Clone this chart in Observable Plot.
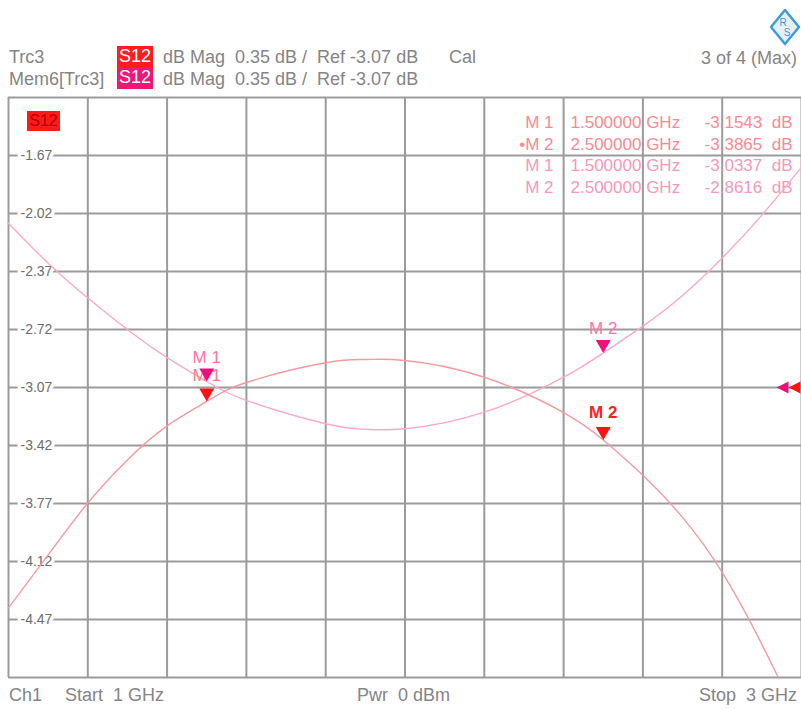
<!DOCTYPE html>
<html><head><meta charset="utf-8">
<script src="https://cdn.jsdelivr.net/npm/d3@7"></script>
<script src="https://cdn.jsdelivr.net/npm/@observablehq/plot@0.6"></script>
<style>
body{margin:0;background:#fff;font-family:"Liberation Sans",Arial,sans-serif;}
#wrap{position:relative;width:801px;height:710px;overflow:hidden;background:#fff;}
.t{position:absolute;white-space:pre;color:#858585;font-size:18px;line-height:20px;}
.badge{position:absolute;color:#fff;font-size:18px;line-height:21px;text-align:center;}
#chart{position:absolute;left:0;top:92px;}
</style></head><body>
<div id="wrap">
  <svg style="position:absolute;left:769px;top:8px" width="32" height="38" viewBox="0 0 32 38">
    <polygon points="16,2 30,19 16,36 2,19" fill="#e4f1fb" stroke="#3d9cdc" stroke-width="2.5" stroke-linejoin="round"/>
    <text x="14" y="18" font-size="10" fill="#3d9cdc" text-anchor="middle" font-family="Liberation Sans">R</text>
    <text x="18" y="28" font-size="10" fill="#3d9cdc" text-anchor="middle" font-family="Liberation Sans">S</text>
  </svg>
  <div class="t" style="left:9px;top:47px">Trc3</div>
  <div class="badge" style="left:117px;top:46px;width:36px;height:21px;background:#ff1e1e">S12</div>
  <div class="t" style="left:163px;top:47px">dB Mag  0.35 dB /  Ref -3.07 dB</div>
  <div class="t" style="left:449px;top:47px">Cal</div>
  <div class="t" style="right:4px;top:48px">3 of 4 (Max)</div>
  <div class="t" style="left:9px;top:69px">Mem6[Trc3]</div>
  <div class="badge" style="left:117px;top:67px;width:36px;height:22px;background:#ee1676">S12</div>
  <div class="t" style="left:163px;top:69px">dB Mag  0.35 dB /  Ref -3.07 dB</div>
  <div id="chart"></div>
  <div class="badge" style="left:27px;top:111px;width:33px;height:20px;line-height:20px;font-size:16px;background:#ff1a1a;color:#b00000">S12</div>
  <div class="t" style="left:9px;top:685px">Ch1</div>
  <div class="t" style="left:65px;top:685px">Start  1 GHz</div>
  <div class="t" style="left:357px;top:685px">Pwr  0 dBm</div>
  <div class="t" style="right:4px;top:685px">Stop  3 GHz</div>
</div>
<script>
// ---- data ----
const trcFreq = [1.0, 1.1, 1.2, 1.3, 1.4, 1.5, 1.6, 1.8, 1.9, 2.0, 2.2, 2.4, 2.5, 2.6, 2.7, 2.8, 2.9, 3.0];
const trcVal  = [-4.40, -4.08, -3.767, -3.507, -3.302, -3.1543, -3.04, -2.921, -2.901, -2.907, -3.008, -3.221, -3.3865, -3.600, -3.854, -4.186, -4.62, -5.11];
const memFreq = [1.0, 1.1, 1.2, 1.3, 1.4, 1.5, 1.6, 1.8, 1.9, 2.0, 2.2, 2.4, 2.5, 2.6, 2.7, 2.8, 2.9, 3.0];
const memVal  = [-2.078, -2.32, -2.53, -2.72, -2.89, -3.0337, -3.148, -3.289, -3.322, -3.319, -3.219, -3.008, -2.8616, -2.70, -2.515, -2.289, -2.03, -1.74];
const markerNames = ["M 1", "M 2"];
const trcMarkerFreq = [1.5, 2.5];
const trcMarkerVal  = [-3.1543, -3.3865];
const memMarkerFreq = [1.5, 2.5];
const memMarkerVal  = [-3.0337, -2.8616];
const refLevel = -3.07;
const xGrid = [1.0, 1.2, 1.4, 1.6, 1.8, 2.0, 2.2, 2.4, 2.6, 2.8, 3.0];
const yGrid = [-4.82, -4.47, -4.12, -3.77, -3.42, -3.07, -2.72, -2.37, -2.02, -1.67, -1.32];
const yTickLabels = [-4.47, -4.12, -3.77, -3.42, -3.07, -2.72, -2.37, -2.02, -1.67];

// ---- build ----
const trcData = trcFreq.map((f, i) => ({f, v: trcVal[i]}));
const memData = memFreq.map((f, i) => ({f, v: memVal[i]}));
const trcM = trcMarkerFreq.map((f, i) => ({f, v: trcMarkerVal[i], name: markerNames[i]}));
const memM = memMarkerFreq.map((f, i) => ({f, v: memMarkerVal[i], name: markerNames[i]}));

const triDown = {draw(ctx) { ctx.moveTo(0, 0); ctx.lineTo(-7.5, -13); ctx.lineTo(7.5, -13); ctx.closePath(); }};
const triLeft = {draw(ctx) { ctx.moveTo(0, 0); ctx.lineTo(12, -6); ctx.lineTo(12, 6); ctx.closePath(); }};

const trcLine = "#f59a9e", memLine = "#ffa8c4";
const trcMk = "#ff1212", memMk = "#f0107a";
const trcTxt = "#f98a92", memTxt = "#f898b8";

const nameCol = rows => rows.map((r, i) => (i === 1 && rows === trcM ? "•" : "") + r.name).join("\n");
const freqCol = rows => rows.map(r => r.f.toFixed(6) + " GHz").join("\n");
const valCol  = rows => rows.map(r => r.v.toFixed(4) + "  dB").join("\n");

const tableMarks = (rows, color, dy) => [
  Plot.text([nameCol(rows)], {text: d => d, frameAnchor: "top-right", textAnchor: "end", lineAnchor: "top", dx: -248, dy, fill: color, fontSize: 17, lineHeight: 1.277}),
  Plot.text([freqCol(rows)], {text: d => d, frameAnchor: "top-right", textAnchor: "start", lineAnchor: "top", dx: -231, dy, fill: color, fontSize: 17, lineHeight: 1.277}),
  Plot.text([valCol(rows)], {text: d => d, frameAnchor: "top-right", textAnchor: "end", lineAnchor: "top", dx: -9, dy, fill: color, fontSize: 17, lineHeight: 1.277})
];

const chart = Plot.plot({
  width: 801,
  height: 590,
  marginTop: 5,
  marginBottom: 5,
  marginLeft: 8,
  marginRight: 0,
  style: {fontFamily: "Liberation Sans, Arial, sans-serif", background: "transparent"},
  x: {domain: [1, 3], axis: null},
  y: {domain: [-4.82, -1.32], axis: null},
  marks: [
    Plot.ruleX(xGrid, {x: d => d, stroke: "#9b9b9b", strokeWidth: 2}),
    Plot.ruleY(yGrid, {y: d => d, stroke: "#9b9b9b", strokeWidth: 2}),
    Plot.text(yTickLabels, {y: d => d, text: d => d.toFixed(2), frameAnchor: "left", textAnchor: "start", dx: 12, fill: "#6e6e6e", stroke: "white", strokeWidth: 7, fontSize: 14}),
    ...tableMarks(trcM, trcTxt, 15),
    ...tableMarks(memM, memTxt, 58),
    Plot.line(memData, {x: "f", y: "v", stroke: memLine, strokeWidth: 1.4, curve: "natural", clip: true}),
    Plot.line(trcData, {x: "f", y: "v", stroke: trcLine, strokeWidth: 1.4, curve: "natural", clip: true}),
    Plot.text(trcM.slice(0, 1), {x: "f", y: "v", text: "name", dy: -26, fill: "#ff7c84", fontSize: 17}),
    Plot.text(trcM.slice(1), {x: "f", y: "v", text: "name", dy: -27, fill: "#ff2020", fontSize: 17, fontWeight: "bold"}),
    Plot.dot(trcM, {x: "f", y: "v", symbol: triDown, r: 6, fill: trcMk}),
    Plot.text(memM, {x: "f", y: "v", text: "name", dy: -24, fill: "#ff74a6", fontSize: 17}),
    Plot.dot(memM, {x: "f", y: "v", symbol: triDown, r: 6, fill: memMk}),
    Plot.dot([refLevel], {y: d => d, frameAnchor: "right", symbol: triLeft, r: 6, dx: -25, fill: memMk}),
    Plot.dot([refLevel], {y: d => d, frameAnchor: "right", symbol: triLeft, r: 6, dx: -13, fill: trcMk})
  ]
});
document.getElementById("chart").appendChild(chart);
</script>
</body></html>
